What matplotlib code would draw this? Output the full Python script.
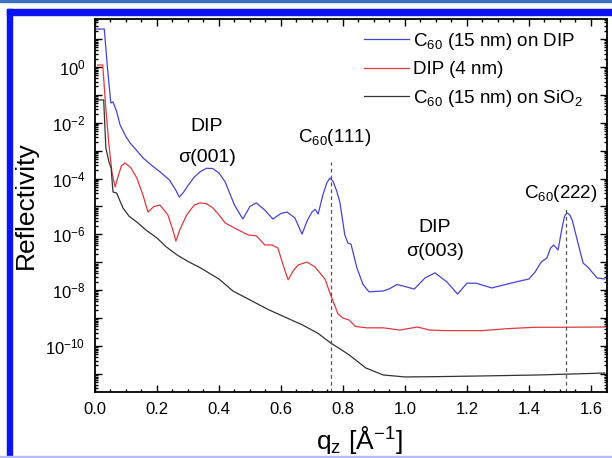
import matplotlib
matplotlib.use('Agg')
import matplotlib.pyplot as plt
import numpy as np
from matplotlib.patches import Rectangle
from matplotlib.ticker import FixedLocator, FuncFormatter, LogLocator, MultipleLocator

plt.rcParams.update({'font.family': 'Liberation Sans', 'font.size': 12,
                     'mathtext.fontset': 'custom', 'mathtext.rm': 'Liberation Sans',
                     'mathtext.it': 'Liberation Sans:italic', 'mathtext.bf': 'Liberation Sans:bold'})

# curves: q_z and log10(reflectivity)
q_blue = [0.005, 0.03, 0.04, 0.051, 0.058, 0.07, 0.081, 0.10, 0.113, 0.135, 0.155, 0.18, 0.21, 0.24,
          0.26, 0.272, 0.285, 0.30, 0.32, 0.34, 0.36, 0.38, 0.40, 0.42, 0.45, 0.477, 0.50, 0.52, 0.548,
          0.574, 0.60, 0.62, 0.645, 0.668, 0.685, 0.70, 0.71, 0.72, 0.735, 0.748, 0.758, 0.768, 0.78, 0.79, 0.806,
          0.816, 0.826, 0.845, 0.865, 0.884, 0.93, 0.95, 0.974, 0.994, 1.03, 1.065, 1.097, 1.135, 1.17,
          1.20, 1.23, 1.28, 1.32, 1.36, 1.40, 1.42, 1.44, 1.458, 1.47, 1.48, 1.494, 1.507, 1.515, 1.523, 1.532,
          1.54, 1.56, 1.575, 1.59, 1.606, 1.62, 1.645]
lg_blue = [1.36, 1.36, 0.0, -1.29, -1.25, -1.6, -2.08, -2.5, -2.72, -3.0, -3.26, -3.5, -3.76, -4.05,
           -4.4, -4.66, -4.5, -4.25, -3.95, -3.75, -3.63, -3.64, -3.8, -4.12, -4.95, -5.45, -5.0, -4.87, -5.13,
           -5.45, -5.25, -5.2, -5.41, -5.99, -5.5, -5.2, -5.1, -5.27, -4.6, -4.15, -3.98, -4.1, -4.45, -4.84, -6.02,
           -6.31, -6.35, -7.2, -7.8, -8.06, -8.03, -7.95, -7.8, -7.85, -7.96, -7.56, -7.38, -7.7, -8.14,
           -7.75, -7.75, -7.92, -7.81, -7.7, -7.6, -7.35, -6.99, -6.85, -6.49, -6.38, -6.56, -5.77, -5.35, -5.23, -5.3,
           -5.5, -6.38, -7.03, -7.17, -7.38, -7.56, -7.6]

q_red = [0.008, 0.025, 0.035, 0.045, 0.055, 0.065, 0.075, 0.085, 0.097, 0.115, 0.135, 0.155, 0.171,
         0.19, 0.21, 0.235, 0.25, 0.261, 0.275, 0.296, 0.32, 0.339, 0.36, 0.38, 0.40, 0.42, 0.45, 0.494,
         0.52, 0.548, 0.571, 0.59, 0.61, 0.623, 0.64, 0.655, 0.684, 0.71, 0.742, 0.758, 0.784, 0.80,
         0.82, 0.84, 0.877, 0.93, 0.984, 1.04, 1.08, 1.13, 1.19, 1.25, 1.33, 1.42, 1.50, 1.645]
lg_red = [0.07, 0.07, -1.5, -2.8, -3.8, -4.3, -3.9, -3.55, -3.44, -3.6, -3.98, -4.6, -5.2,
          -5.0, -4.95, -5.3, -5.8, -6.24, -5.8, -5.3, -4.95, -4.87, -4.9, -5.05, -5.3, -5.59, -5.77, -6.02,
          -6.05, -6.38, -6.38, -6.49, -7.2, -7.63, -7.3, -7.1, -6.99, -7.17, -7.6, -8.1, -8.85, -9.0,
          -9.07, -9.3, -9.35, -9.35, -9.43, -9.32, -9.43, -9.45, -9.45, -9.45, -9.38, -9.33, -9.33, -9.32]

q_black = [0.008, 0.028, 0.035, 0.045, 0.052, 0.058, 0.07, 0.09, 0.11, 0.135, 0.165, 0.20, 0.23, 0.265,
           0.30, 0.34, 0.40, 0.445, 0.50, 0.56, 0.62, 0.67, 0.72, 0.76, 0.79, 0.82, 0.874, 0.93, 1.0,
           1.1, 1.22, 1.43, 1.645]
lg_black = [-1.18, -1.18, -2.9, -3.4, -3.62, -4.48, -4.52, -5.05, -5.35, -5.56, -5.85, -6.13, -6.45, -6.74,
            -6.97, -7.2, -7.6, -8.03, -8.35, -8.7, -9.0, -9.25, -9.55, -9.89, -10.1, -10.32, -10.79, -11.04, -11.11,
            -11.1, -11.08, -11.04, -10.97]

labels = ['C$_{60}$ (15 nm) on DIP', 'DIP (4 nm)', 'C$_{60}$ (15 nm) on SiO$_2$']
colors = ['#4444da', '#e0393e', '#333333']

peak_q = [0.76, 1.52]
peak_top = [10**-3.4, 10**-5.1]

fig = plt.figure(figsize=(6.12, 4.58), dpi=100)
ax = fig.add_axes([95/612, 66/458, 512/612, 373/458])

for q, lg, lab, c in zip([q_blue, q_red, q_black], [lg_blue, lg_red, lg_black], labels, colors):
    ax.plot(q, 10**np.array(lg), color=c, lw=0.9, label=lab)

ax.vlines(peak_q, 10**-11.65, peak_top, colors='#555555', linestyles=(0, (3, 2.5)), lw=0.9)

ax.set_yscale('log')
ax.set_xlim(0, 1.652)
ax.set_ylim(10**-11.65, 10**1.72)

ax.yaxis.set_major_locator(FixedLocator([10.0**k for k in range(-11, 2)]))
ax.yaxis.set_major_formatter(FuncFormatter(
    lambda v, p: '$10^{%d}$' % round(np.log10(v)) if round(np.log10(v)) % 2 == 0 and round(np.log10(v)) >= -10 else ''))
ax.yaxis.set_minor_locator(LogLocator(base=10, subs=np.arange(2, 10), numticks=40))
ax.yaxis.set_minor_formatter(FuncFormatter(lambda v, p: ''))
ax.xaxis.set_major_locator(MultipleLocator(0.2))
ax.xaxis.set_major_formatter(FuncFormatter(lambda v, p: '%.1f' % v))
ax.xaxis.set_minor_locator(MultipleLocator(0.05))
ax.tick_params(which='both', direction='in', top=True, right=True, labelsize=12, width=1)
ax.tick_params(which='major', length=5, pad=7)
ax.tick_params(which='minor', length=2.5)
for s in ax.spines.values():
    s.set_linewidth(1.3)

ax.set_xlabel(r'q$_\mathrm{z}$ [Å$^{\mathrm{-1}}$]', fontsize=19)
ax.xaxis.set_label_coords(0.516, -0.085)
ax.set_ylabel('Reflectivity', fontsize=19, labelpad=5)

ax.text(0.36, 10**-2.15, 'DIP', ha='center', va='center', fontsize=14)
ax.text(0.36, 10**-3.23, 'σ(001)', ha='center', va='center', fontsize=14)
ax.text(0.775, 10**-2.51, 'C$_{60}$(111)', ha='center', va='center', fontsize=13.5)
ax.text(1.097, 10**-5.77, 'DIP', ha='center', va='center', fontsize=14)
ax.text(1.097, 10**-6.63, 'σ(003)', ha='center', va='center', fontsize=14)
ax.text(1.503, 10**-4.52, 'C$_{60}$(222)', ha='center', va='center', fontsize=13.5)

ax.legend(loc='upper left', bbox_to_anchor=(0.525, 0.968), frameon=False, fontsize=13.5,
          handlelength=2.4, handletextpad=0.25, labelspacing=0.5, borderpad=0, borderaxespad=0)

# blue frame round the figure
W, H = 612, 458
fig.patches.append(Rectangle((7/W, (H-15)/H), 1 - 7/W, 6/H, transform=fig.transFigure, color='#0a14f0', zorder=-1))
fig.patches.append(Rectangle((7/W, 0), 5/W, (H-9)/H, transform=fig.transFigure, color='#0a14f0', zorder=-1))
fig.patches.append(Rectangle((0, (H-1.5)/H), 1, 1.5/H, transform=fig.transFigure, color='#3f6fc0', zorder=-1))
fig.patches.append(Rectangle((0, 0), 1, 2/H, transform=fig.transFigure, color='#b4bcf2', zorder=-1))

plt.savefig('out.png', dpi=100)
plt.close()
